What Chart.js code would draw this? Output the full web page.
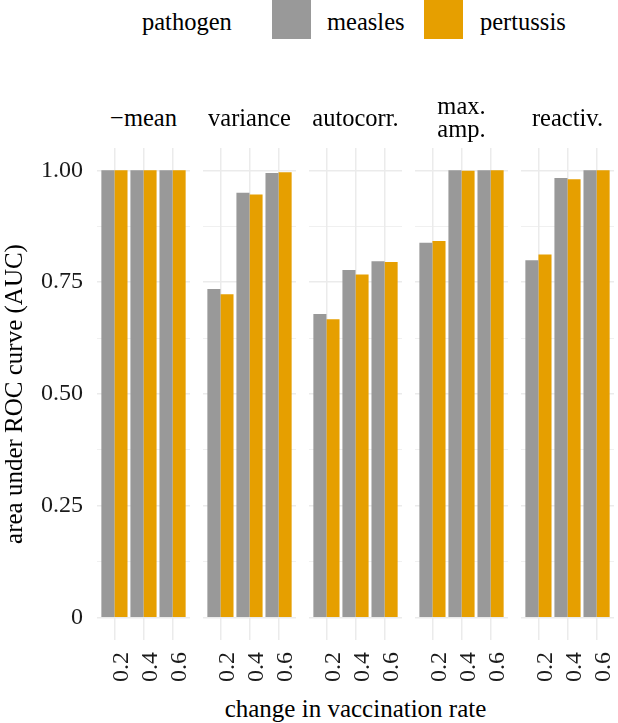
<!DOCTYPE html>
<html>
<head>
<meta charset="utf-8">
<script src="https://cdn.jsdelivr.net/npm/chart.js@4.4.1/dist/chart.umd.min.js"></script>
<style>
  html, body { margin: 0; padding: 0; background: #fff; }
  #wrap { position: relative; width: 618px; height: 723px; overflow: hidden;
          font-family: "Liberation Serif", "Times New Roman", Times, Tinos, "DejaVu Serif", "Noto Serif", FreeSerif, serif;
          color: #000; }
  .panel { position: absolute; top: 80px; height: 610px; }
  .lg { position: absolute; top: 9.5px; font-size: 24.5px; line-height: 1; white-space: nowrap; }
  .key { position: absolute; top: 0; width: 39px; height: 39px; }
  .strip { position: absolute; width: 140px; text-align: center; font-size: 24.5px; line-height: 23px; white-space: nowrap; }
  .xtitle { position: absolute; left: 97px; width: 517px; top: 696px; text-align: center; font-size: 25px; line-height: 1; white-space: nowrap; }
</style>
</head>
<body>
<div id="wrap"></div>
<script>
// facets, x categories and AUC values
const metrics = ['\u2212mean', 'variance', 'autocorr.', ['max.', 'amp.'], 'reactiv.'];
const rates = ['0.2', '0.4', '0.6'];
const seriesNames = ['measles', 'pertussis'];
const legendTitle = 'pathogen';
const xTitle = 'change in vaccination rate';
const yTitle = 'area under ROC curve (AUC)';

const measlesAUC = [
  [1.000, 1.000, 1.000],
  [0.735, 0.950, 0.994],
  [0.679, 0.777, 0.797],
  [0.838, 1.000, 1.000],
  [0.799, 0.983, 1.000]
];
const pertussisAUC = [
  [1.000, 1.000, 1.000],
  [0.723, 0.946, 0.996],
  [0.667, 0.767, 0.795],
  [0.842, 0.999, 1.000],
  [0.812, 0.980, 1.000]
];

const yGrid = [0, 0.125, 0.25, 0.375, 0.5, 0.625, 0.75, 0.875, 1];
const yTickValues = [0, 0.25, 0.5, 0.75, 1];
const yTickLabels = ['0', '0.25', '0.50', '0.75', '1.00'];

const colors = ['#999999', '#E69F00'];
const gridColor = '#ebebeb';
const serif = '"Liberation Serif", "Times New Roman", Times, Tinos, "DejaVu Serif", "Noto Serif", FreeSerif, serif';

Chart.defaults.font.family = serif;
Chart.defaults.color = '#1a1a1a';

const wrap = document.getElementById('wrap');

function addDiv(cls, css, text) {
  const d = document.createElement('div');
  d.className = cls;
  Object.assign(d.style, css);
  if (text) d.textContent = text;
  wrap.appendChild(d);
  return d;
}

// legend (ggplot style, on top)
addDiv('lg', { left: '142px' }, legendTitle);
addDiv('key', { left: '272px', background: colors[0] });
addDiv('lg', { left: '327px' }, seriesNames[0]);
addDiv('key', { left: '424px', background: colors[1] });
addDiv('lg', { left: '480px' }, seriesNames[1]);

// overall x title
addDiv('xtitle', {}, xTitle);

const lefts = [0, 203, 309, 415, 521];
const widths = [190, 93, 93, 93, 93];

function makePanel(i) {
  const first = i === 0;
  const areaLeft = first ? 97 : lefts[i];
  const lines = [].concat(metrics[i]);
  // strip label, centred over the panel
  const s = addDiv('strip', {
    left: (areaLeft + 46.5 - 70) + 'px',
    top: (lines.length > 1 ? 94 : 106) + 'px'
  });
  s.innerHTML = lines.join('<br>');

  const box = document.createElement('div');
  box.className = 'panel';
  box.style.left = lefts[i] + 'px';
  box.style.width = widths[i] + 'px';
  const canvas = document.createElement('canvas');
  box.appendChild(canvas);
  wrap.appendChild(box);

  new Chart(canvas, {
    type: 'bar',
    data: {
      datasets: [
        { label: seriesNames[0], data: measlesAUC[i].map((v, k) => ({ x: k + 1, y: v })), backgroundColor: colors[0] },
        { label: seriesNames[1], data: pertussisAUC[i].map((v, k) => ({ x: k + 1, y: v })), backgroundColor: colors[1] }
      ]
    },
    options: {
      responsive: true,
      maintainAspectRatio: false,
      animation: false,
      categoryPercentage: 0.9,
      barPercentage: 1.0,
      layout: { padding: { top: 68, left: 0, right: 0, bottom: 0 } },
      plugins: {
        legend: { display: false },
        tooltip: { enabled: false }
      },
      scales: {
        x: {
          type: 'linear',
          min: 0.4,
          max: 3.6,
          offset: false,
          afterBuildTicks: sc => { sc.ticks = rates.map((r, k) => ({ value: k + 1 })); },
          afterFit: sc => { sc.height = 50; sc.paddingLeft = 0; sc.paddingRight = 0; },
          grid: { offset: false, color: gridColor, lineWidth: 1.5, drawTicks: false },
          border: { display: false },
          ticks: {
            autoSkip: false,
            minRotation: 90,
            maxRotation: 90,
            padding: 12,
            labelOffset: 7,
            font: { size: 24 },
            callback: v => rates[v - 1] ?? ''
          }
        },
        y: {
          min: -0.05,
          max: 1.05,
          afterBuildTicks: sc => { sc.ticks = yGrid.map(v => ({ value: v })); },
          afterFit: sc => { sc.width = first ? 97 : 0; sc.paddingTop = 0; sc.paddingBottom = 0; },
          grid: {
            color: gridColor,
            lineWidth: c => yTickValues.includes(c.tick.value) ? 1.5 : 0.75,
            drawTicks: false
          },
          border: { display: false },
          ticks: {
            display: first,
            padding: 14,
            font: { size: 24 },
            callback: v => {
              const j = yTickValues.indexOf(v);
              return j >= 0 ? yTickLabels[j] : '';
            }
          },
          title: {
            display: first,
            text: yTitle,
            color: '#000',
            font: { size: 25 },
            padding: { top: 0, bottom: 0 }
          }
        }
      }
    }
  });
}

metrics.forEach((m, i) => makePanel(i));
</script>
</body>
</html>
